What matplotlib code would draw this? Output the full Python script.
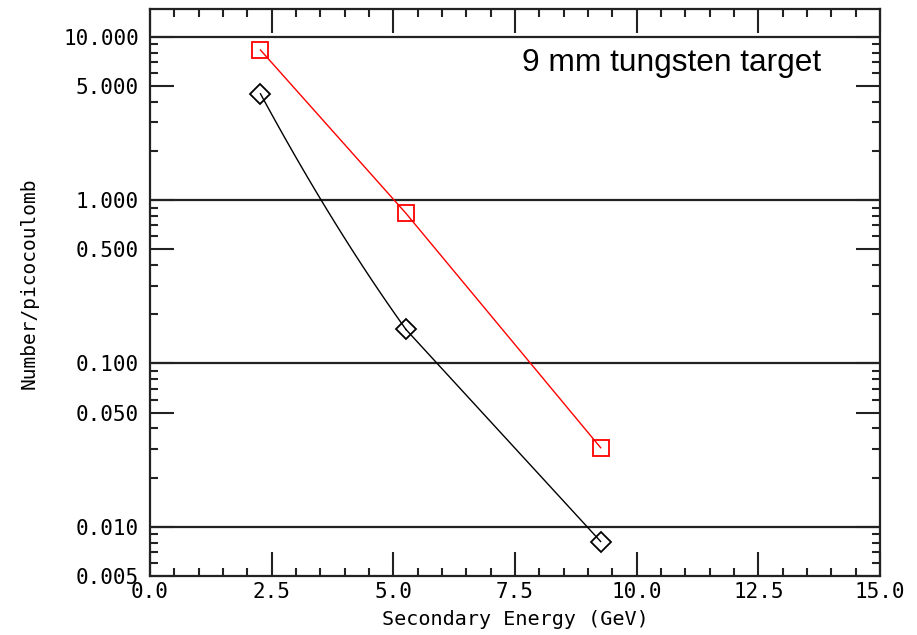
import numpy as np
import matplotlib
matplotlib.use("Agg")
import matplotlib.pyplot as plt
from matplotlib.ticker import FixedLocator, MultipleLocator, NullFormatter

# ---- data ----
energy = [2.27, 5.26, 9.26]
red_vals = [8.3, 0.83, 0.0305]
black_vals = [4.48, 0.1615, 0.00813]
ytick_vals = [0.005, 0.010, 0.050, 0.100, 0.500, 1.000, 5.000, 10.000]
ytick_labels = ["0.005", "0.010", "0.050", "0.100", "0.500", "1.000", "5.000", "10.000"]
xtick_vals = [0.0, 2.5, 5.0, 7.5, 10.0, 12.5, 15.0]
xtick_labels = ["0.0", "2.5", "5.0", "7.5", "10.0", "12.5", "15.0"]
grid_vals = [0.01, 0.1, 1.0, 10.0]
annotation = "9 mm tungsten target"
xlabel = "Secondary Energy (GeV)"
ylabel = "Number/picocoulomb"

W, H = 917, 635
fig = plt.figure(figsize=(W / 100, H / 100), dpi=100)
ax = fig.add_axes([150 / W, (H - 576) / H, (880 - 150) / W, (576 - 9) / H])
ax.set_yscale("log")
ax.set_xlim(0, 15)
ax.set_ylim(0.005, 14.8)

mono = "DejaVu Sans Mono"

# decade grid lines
for g in grid_vals:
    ax.axhline(g, color="#222222", lw=1.6, zorder=1)

# red series: straight segments
ax.plot(energy, red_vals, color="red", lw=1.0, zorder=3)
ax.plot(energy, red_vals, ls="none", marker="s", ms=11.5, mfc="none",
        mec="red", mew=1.3, zorder=4)

# black series: curved first segment (quadratic in log space), straight second
ex = np.array(energy)
ly = np.log10(np.array(black_vals))
coef = np.polyfit(ex, ly, 2)
xs = np.linspace(ex[0], ex[1], 80)
ax.plot(xs, 10 ** np.polyval(coef, xs), color="black", lw=1.0, zorder=3)
ax.plot(energy[1:], black_vals[1:], color="black", lw=1.0, zorder=3)
ax.plot(energy, black_vals, ls="none", marker="D", ms=10.5, mfc="none",
        mec="black", mew=1.3, zorder=4)

# ticks
ax.yaxis.set_major_locator(FixedLocator(ytick_vals))
ax.set_yticklabels(ytick_labels, family=mono, fontsize=15)
minors = []
for dec in [0.001, 0.01, 0.1, 1.0]:
    for m in range(2, 10):
        v = m * dec
        if m != 5 and 0.005 <= v <= 14.8:
            minors.append(v)
ax.yaxis.set_minor_locator(FixedLocator(minors))
ax.yaxis.set_minor_formatter(NullFormatter())

ax.xaxis.set_major_locator(FixedLocator(xtick_vals))
ax.set_xticklabels(xtick_labels, family=mono, fontsize=15)
ax.xaxis.set_minor_locator(MultipleLocator(0.5))

ax.tick_params(which="both", direction="in", top=True, right=True,
               color="#222222", width=1.5)
ax.tick_params(which="major", length=17)
ax.tick_params(which="minor", length=6)
ax.tick_params(axis="y", which="major", pad=8)
ax.tick_params(axis="x", which="major", pad=4)

for sp in ax.spines.values():
    sp.set_linewidth(1.6)
    sp.set_color("#222222")

ax.set_xlabel(xlabel, family=mono, fontsize=14.5, labelpad=6)
ax.set_ylabel(ylabel, family=mono, fontsize=14)
ax.yaxis.set_label_coords(-0.153, 0.517)

ax.text(0.715, 0.905, annotation, transform=ax.transAxes, ha="center",
        va="center", fontsize=22.8, family="Liberation Sans", color="black")

fig.savefig("out.png", dpi=100)
